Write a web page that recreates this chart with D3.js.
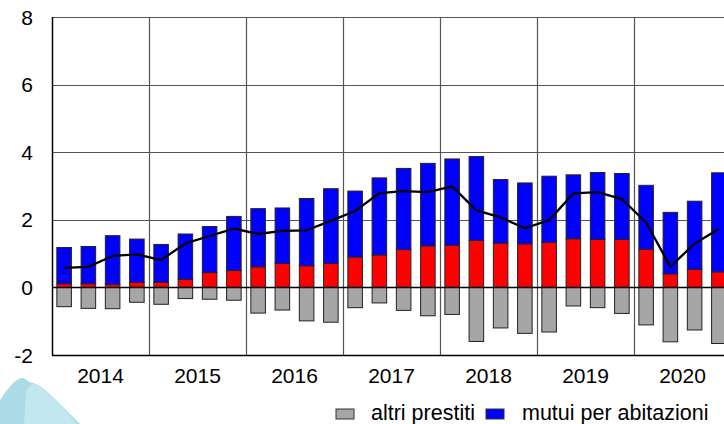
<!DOCTYPE html>
<html>
<head>
<meta charset="utf-8">
<script src="https://cdn.jsdelivr.net/npm/d3@7"></script>
<style>
  html, body { margin: 0; padding: 0; background: #ffffff; }
  svg { display: block; }
  text { font-family: "Liberation Sans", Arial, sans-serif; fill: #000; }
</style>
</head>
<body>
<svg id="chart" width="724" height="424"></svg>
<script>
// ---- data ----
const years = ["2014", "2015", "2016", "2017", "2018", "2019", "2020"];
const quarters = [];
years.forEach(yr => ["Q1", "Q2", "Q3", "Q4"].forEach(q => quarters.push(yr + " " + q)));

const altriPrestiti = [-0.57, -0.62, -0.63, -0.44, -0.50, -0.33, -0.35, -0.38, -0.76, -0.67, -0.99, -1.03, -0.60, -0.46, -0.68, -0.84, -0.80, -1.60, -1.20, -1.36, -1.32, -0.55, -0.60, -0.77, -1.11, -1.61, -1.26, -1.66];
const creditoConsumo = [0.11, 0.11, 0.09, 0.15, 0.15, 0.24, 0.44, 0.50, 0.61, 0.71, 0.64, 0.71, 0.90, 0.96, 1.12, 1.23, 1.25, 1.39, 1.31, 1.29, 1.33, 1.44, 1.42, 1.42, 1.13, 0.40, 0.53, 0.46];
const mutuiAbitazioni = [1.07, 1.10, 1.44, 1.28, 1.12, 1.34, 1.36, 1.60, 1.72, 1.64, 1.99, 2.21, 1.95, 2.28, 2.40, 2.44, 2.55, 2.48, 1.88, 1.80, 1.96, 1.89, 1.98, 1.95, 1.89, 1.82, 2.02, 2.93];
const totale = [0.58, 0.61, 0.93, 0.98, 0.81, 1.30, 1.52, 1.74, 1.58, 1.67, 1.69, 1.97, 2.26, 2.79, 2.85, 2.82, 2.99, 2.28, 2.07, 1.75, 1.99, 2.78, 2.82, 2.61, 1.92, 0.61, 1.30, 1.73];
const yTicks = [-2, 0, 2, 4, 6, 8];
const legendItems = [
  { label: "altri prestiti", color: "#a6a6a6" },
  { label: "mutui per abitazioni", color: "#0000ff" }
];

// ---- layout ----
const svg = d3.select("#chart");
const plotLeft = 52, plotRight = 731, plotTop = 17, plotBottom = 355;

const x = d3.scaleBand().domain(quarters).range([plotLeft, plotRight]).paddingInner(0.4).paddingOuter(0.2);
const xYear = d3.scaleBand().domain(years).range([plotLeft, plotRight]);
const y = d3.scaleLinear().domain([-2, 8]).range([plotBottom, plotTop]);

// decorative watermark (bottom-left)
const deco = svg.append("g");
deco.append("path")
  .attr("d", "M0,424 L0,400 C6,392 12,381 21,378 C26,378 29,383 33,383 C41,385 50,394 58,402 C67,411 74,418 80,424 Z")
  .attr("fill", "#abdbe6");
deco.append("path")
  .attr("d", "M24,424 L26,392 C29,386 31,384 34,384 C42,387 50,395 58,403 C66,411 72,418 77,424 Z")
  .attr("fill", "#c3e7ef");

// horizontal gridlines
svg.append("g").selectAll("line")
  .data(yTicks.filter(d => d !== 0 && d !== -2))
  .join("line")
  .attr("x1", plotLeft).attr("x2", 724)
  .attr("y1", d => Math.round(y(d)) + 0.5).attr("y2", d => Math.round(y(d)) + 0.5)
  .attr("stroke", "#555").attr("stroke-width", 1.2);

// vertical year gridlines
svg.append("g").selectAll("line")
  .data(years.slice(1))
  .join("line")
  .attr("x1", d => Math.round(xYear(d)) + 0.5).attr("x2", d => Math.round(xYear(d)) + 0.5)
  .attr("y1", plotTop).attr("y2", plotBottom)
  .attr("stroke", "#555").attr("stroke-width", 1.2);

// bars
const barG = svg.append("g");
const bw = x.bandwidth();
const outline = "#222";
barG.selectAll("rect.altri").data(quarters).join("rect")
  .attr("class", "altri")
  .attr("x", d => x(d)).attr("width", bw)
  .attr("y", y(0)).attr("height", (d, i) => y(altriPrestiti[i]) - y(0))
  .attr("fill", "#a6a6a6").attr("stroke", outline).attr("stroke-width", 1);
barG.selectAll("rect.cons").data(quarters).join("rect")
  .attr("class", "cons")
  .attr("x", d => x(d)).attr("width", bw)
  .attr("y", (d, i) => y(creditoConsumo[i])).attr("height", (d, i) => y(0) - y(creditoConsumo[i]))
  .attr("fill", "#ff0000").attr("stroke", outline).attr("stroke-width", 1);
barG.selectAll("rect.mutui").data(quarters).join("rect")
  .attr("class", "mutui")
  .attr("x", d => x(d)).attr("width", bw)
  .attr("y", (d, i) => y(creditoConsumo[i] + mutuiAbitazioni[i]))
  .attr("height", (d, i) => y(creditoConsumo[i]) - y(creditoConsumo[i] + mutuiAbitazioni[i]))
  .attr("fill", "#0000ff").attr("stroke", outline).attr("stroke-width", 1);

// zero line
svg.append("line")
  .attr("x1", plotLeft).attr("x2", 724)
  .attr("y1", Math.round(y(0)) + 0.5).attr("y2", Math.round(y(0)) + 0.5)
  .attr("stroke", "#000").attr("stroke-width", 1.3);

// total line
const line = d3.line()
  .x((d, i) => x(quarters[i]) + bw / 2)
  .y(d => y(d));
svg.append("path")
  .datum(totale)
  .attr("d", line)
  .attr("fill", "none").attr("stroke", "#000").attr("stroke-width", 2.3)
  .attr("stroke-linejoin", "round");

// axes frame
svg.append("line")
  .attr("x1", plotLeft + 0.5).attr("x2", plotLeft + 0.5).attr("y1", plotTop).attr("y2", plotBottom)
  .attr("stroke", "#000").attr("stroke-width", 1.5);
svg.append("line")
  .attr("x1", plotLeft).attr("x2", 724).attr("y1", Math.round(y(-2)) + 0.5).attr("y2", Math.round(y(-2)) + 0.5)
  .attr("stroke", "#000").attr("stroke-width", 1.5);

// y labels
svg.append("g").selectAll("text")
  .data(yTicks).join("text")
  .attr("x", 33).attr("y", d => y(d))
  .attr("dy", "0.36em")
  .attr("text-anchor", "end")
  .attr("font-size", 21)
  .text(d => d);

// year labels
svg.append("g").selectAll("text")
  .data(years).join("text")
  .attr("x", d => xYear(d) + xYear.bandwidth() / 2)
  .attr("y", 383)
  .attr("text-anchor", "middle")
  .attr("font-size", 21)
  .text(d => d);

// legend
const legendPos = [{ sx: 336, tx: 371 }, { sx: 486, tx: 522 }];
const lg = svg.append("g");
legendItems.forEach((it, i) => {
  lg.append("rect")
    .attr("x", legendPos[i].sx).attr("y", 409).attr("width", 18).attr("height", 10)
    .attr("fill", it.color).attr("stroke", "#333").attr("stroke-width", 1);
  lg.append("text")
    .attr("x", legendPos[i].tx).attr("y", 420)
    .attr("font-size", 21.5)
    .text(it.label);
});
</script>
</body>
</html>
